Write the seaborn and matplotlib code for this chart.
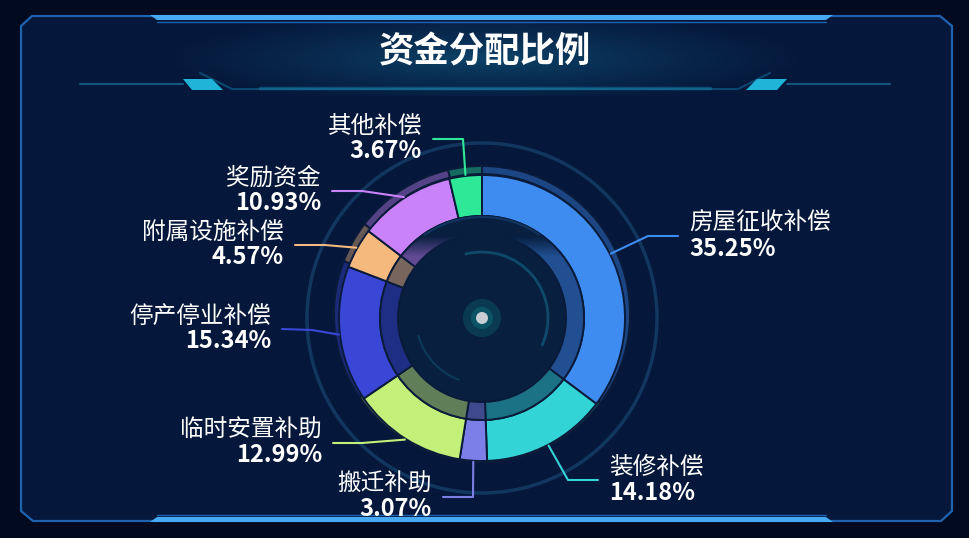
import numpy as np
import matplotlib.pyplot as plt
import seaborn as sns
from matplotlib.patches import Polygon, Circle, Arc, Wedge
from matplotlib.colors import to_rgb

# Données
categories = ['房屋征收补偿', '装修补偿', '搬迁补助', '临时安置补助',
              '停产停业补偿', '附属设施补偿', '奖励资金', '其他补偿']
shares = [35.25, 14.18, 3.07, 12.99, 15.34, 4.57, 10.93, 3.67]
pct_labels = [f'{v:.2f}%' for v in shares]
slice_colors = ['#3f8cf0', '#33d4d6', '#7c7fe8', '#c2f078',
                '#3a47d6', '#f5b97e', '#c982f7', '#2ee897']
title = '资金分配比例'

# Mise en page des étiquettes (pixels) : coude et fin de la ligne de rappel
label_elbow = [(648, 236), (568, 480), (473, 497), (362, 443),
               (312, 330), (325, 245), (362, 191), (463, 139)]
label_end = [(678, 236), (598, 480), (443, 497), (333, 443),
             (282, 329), (295, 245), (332, 191), (433, 139)]

W, H = 970, 538
OUTER_BG = '#020a1f'
PANEL_BG = '#05173a'
DISC = '#081f40'
CX, CY = 482, 318
R_OUT, R_IN, R_BAND = 143, 102, 84


def Y(py):
    return H - py


def mix(c, bg, a):
    c, bg = np.array(to_rgb(c)), np.array(to_rgb(bg))
    return tuple(c * a + bg * (1 - a))


sns.set_theme(style='dark', rc={'figure.facecolor': OUTER_BG, 'axes.facecolor': OUTER_BG})
plt.rcParams['font.family'] = ['Noto Sans CJK SC', 'DejaVu Sans']

fig = plt.figure(figsize=(W / 100, H / 100), dpi=100)
ax = fig.add_axes([0, 0, 1, 1])

# Cadre du panneau
frame = [(21, 26), (32, 16), (940, 16), (952, 26), (952, 511), (941, 521), (33, 521), (21, 511)]
ax.add_patch(Polygon([(x, Y(y)) for x, y in frame], closed=True, fc=PANEL_BG,
                     ec='#1f63b0', lw=1.6, zorder=1))

# Lueur derrière le titre
gy, gx = np.mgrid[0:80, 0:931]
d = np.sqrt(((gx - 464) / 340.0) ** 2 + ((gy - 42) / 50.0) ** 2)
glow = np.zeros((80, 931, 4))
glow[..., :3] = to_rgb('#0e4a70')
glow[..., 3] = np.clip(1 - d, 0, 1) ** 1.2 * 0.85
ax.imshow(glow, extent=(21, 952, Y(96), Y(16)), origin='upper', zorder=1.5,
          interpolation='bilinear', aspect='auto')

# Barres lumineuses haut / bas
ax.add_patch(Polygon([(x, Y(y)) for x, y in [(150, 15), (833, 15), (826, 20), (157, 20)]],
                     fc='#46a9f2', ec='none', zorder=3))
ax.plot([157, 826], [Y(22), Y(22)], color='#1f63b0', lw=1, zorder=3)
ax.add_patch(Polygon([(x, Y(y)) for x, y in [(157, 517), (826, 517), (833, 522), (150, 522)]],
                     fc='#46a9f2', ec='none', zorder=3))
ax.plot([157, 826], [Y(515), Y(515)], color='#1f63b0', lw=1, zorder=3)

# Décor sous le titre
ax.plot([80, 183], [Y(84), Y(84)], color='#176890', lw=1.5, alpha=0.8, zorder=3)
ax.plot([787, 890], [Y(84), Y(84)], color='#176890', lw=1.5, alpha=0.8, zorder=3)
ax.plot([200, 232, 738, 770], [Y(73), Y(89), Y(89), Y(73)], color='#0e5c86', lw=1.5, alpha=0.7, zorder=3)
ax.plot([260, 710], [Y(88), Y(88)], color='#1a86b0', lw=2.5, alpha=0.45, zorder=3)
ax.add_patch(Polygon([(x, Y(y)) for x, y in [(183, 79), (212, 79), (223, 90), (192, 90)]],
                     fc='#1fb4d8', ec='none', zorder=3))
ax.add_patch(Polygon([(x, Y(y)) for x, y in [(757, 79), (787, 79), (777, 90), (746, 90)]],
                     fc='#1fb4d8', ec='none', zorder=3))

ax.text(485, Y(52), title, ha='center', va='center', color='white',
        fontsize=25.5, fontweight='bold', zorder=5)

# Décor circulaire
ax.add_patch(Circle((CX, Y(CY)), 175, fill=False, ec='#12375f', lw=2.5, zorder=2))
ax.add_patch(Circle((CX, Y(CY)), R_BAND, fc=DISC, ec='none', zorder=2))
ax.add_patch(Arc((CX, Y(CY)), 132, 132, theta1=-25, theta2=105, color='#0f4a6a', lw=2, zorder=2.5))
ax.add_patch(Arc((CX, Y(CY)), 132, 132, theta1=195, theta2=250, color='#0c3a58', lw=1.5, zorder=2.5))
ax.add_patch(Circle((CX, Y(CY)), 19, fc='#0b4257', ec='none', alpha=0.8, zorder=2.6))
ax.add_patch(Circle((CX, Y(CY)), 11, fc='#0f5a6c', ec='none', alpha=0.8, zorder=2.7))
ax.add_patch(Circle((CX, Y(CY)), 6, fc='#c8ced4', ec='none', zorder=2.8))

# Anneaux (ombre extérieure, anneau principal, bande intérieure)
shadow_colors = [mix(c, PANEL_BG, 0.4) for c in slice_colors]
band_colors = [mix(c, PANEL_BG, 0.48) for c in slice_colors]
edge = dict(edgecolor='#0a1b3a', linewidth=1.4)

w1, _ = ax.pie(shares, colors=shadow_colors, radius=148, center=(CX, Y(CY) + 4),
               startangle=90, counterclock=False, wedgeprops=dict(width=8, **edge))
w2, _ = ax.pie(shares, colors=slice_colors, radius=R_OUT, center=(CX, Y(CY)),
               startangle=90, counterclock=False, wedgeprops=dict(width=R_OUT - R_IN, **edge))
w3, _ = ax.pie(shares, colors=band_colors, radius=R_IN, center=(CX, Y(CY)),
               startangle=90, counterclock=False, wedgeprops=dict(width=R_IN - R_BAND, **edge))
for w in w1:
    w.set_zorder(3)
for w in w2 + w3:
    w.set_zorder(4)

# La bande intérieure s'efface vers le haut (effet de profondeur)
fy_, fx_ = np.mgrid[0:210, 0:210]
fade = np.zeros((210, 210, 4))
fade[..., :3] = to_rgb(DISC)
fade[..., 3] = np.clip((CY - 62 - (CY - 105 + fy_)) / 20.0, 0, 1)
im = ax.imshow(fade, extent=(CX - 105, CX + 105, Y(CY + 105), Y(CY - 105)), origin='upper',
               zorder=4.2, interpolation='bilinear', aspect='auto')
clip = Wedge((CX, Y(CY)), R_IN + 0.5, 0, 360, width=R_IN - R_BAND + 1.5,
             transform=ax.transData, fc='none', ec='none')
ax.add_patch(clip)
im.set_clip_path(clip)
ax.add_patch(Arc((CX, Y(CY)), 2 * R_IN - 2, 2 * R_IN - 2, theta1=55, theta2=125,
                 color='#12355f', lw=1.5, zorder=4.3))

# Lignes de rappel et étiquettes
cum = np.cumsum([0] + shares[:-1])
total = sum(shares)
for i, name in enumerate(categories):
    mid = 90 - (cum[i] + shares[i] / 2) / total * 360
    sx = CX + (R_OUT + 1) * np.cos(np.radians(mid))
    sy = Y(CY) + (R_OUT + 1) * np.sin(np.radians(mid))
    (ex, ey), (fx, fy) = label_elbow[i], label_end[i]
    ax.plot([sx, ex, fx], [sy, Y(ey), Y(fy)], color=slice_colors[i], lw=1.5,
            zorder=4.5, solid_capstyle='round')
    right = fx > ex
    tx = fx + 11 if right else fx - 11
    ha = 'left' if right else 'right'
    ax.text(tx, Y(fy - 12.5), name, ha=ha, va='center', color='white',
            fontsize=17, zorder=5)
    ax.text(tx, Y(fy + 12.5), pct_labels[i], ha=ha, va='center', color='white',
            fontsize=17, fontweight='bold', zorder=5)

ax.set_xlim(0, W)
ax.set_ylim(0, H)
ax.set_aspect('auto')
ax.axis('off')

plt.savefig('out.png', dpi=100, facecolor=OUTER_BG)
